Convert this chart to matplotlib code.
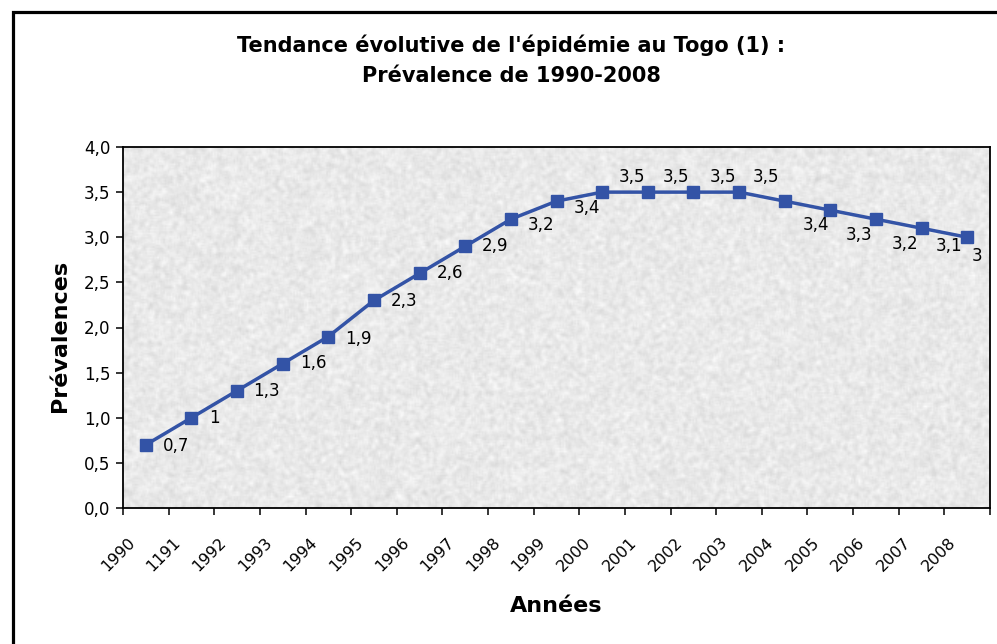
import matplotlib
matplotlib.use("Agg")
import matplotlib.pyplot as plt
import matplotlib.transforms as mtransforms
from matplotlib.patches import Rectangle
import numpy as np

# data
years = ["1990", "1191", "1992", "1993", "1994", "1995", "1996", "1997", "1998",
         "1999", "2000", "2001", "2002", "2003", "2004", "2005", "2006", "2007", "2008"]
prevalence = [0.7, 1.0, 1.3, 1.6, 1.9, 2.3, 2.6, 2.9, 3.2, 3.4,
              3.5, 3.5, 3.5, 3.5, 3.4, 3.3, 3.2, 3.1, 3.0]
value_labels = ["0,7", "1", "1,3", "1,6", "1,9", "2,3", "2,6", "2,9", "3,2", "3,4",
                "3,5", "3,5", "3,5", "3,5", "3,4", "3,3", "3,2", "3,1", "3"]

# label placement (pixels, x right / y down) relative to each marker
label_offsets = [(17, 1), (18, 0), (16, 0), (17, -1), (17, 2), (17, 1), (17, 0),
                 (17, 0), (17, 6), (17, 7), (17, -15), (15, -15), (16, -15),
                 (14, -15), (18, 24), (15, 25), (16, 25), (14, 18), (5, 19)]

plt.rcParams["font.family"] = ["DejaVu Sans"]

W, H = 997, 644
fig = plt.figure(figsize=(W / 100, H / 100), dpi=100)
fig.patch.set_facecolor("white")

# outer chart border (runs off the right and bottom edges)
fig.patches.append(Rectangle((12.5 / W, -0.2), 1.2, 1.2 - 12.5 / H,
                             transform=fig.transFigure, fill=False,
                             edgecolor="black", linewidth=2.3, clip_on=False))

ax = fig.add_axes([123 / W, 1 - 508 / H, (990 - 123) / W, (508 - 147) / H])

# marble-like grey background texture
rs = np.random.RandomState(3)
noise = rs.rand(240, 580)
k = np.ones((3, 3)) / 9.0
sm = noise.copy()
p = np.pad(sm, 1, mode="edge")
sm = sum(p[i:i + sm.shape[0], j:j + sm.shape[1]] * k[i, j]
         for i in range(3) for j in range(3))
sm = (sm - sm.min()) / (sm.max() - sm.min())
tex = 0.83 + 0.16 * sm
ax.imshow(tex, cmap="gray", vmin=0, vmax=1, aspect="auto",
          extent=(-0.5, len(years) - 0.5, 0, 4), zorder=0, interpolation="bilinear")

x = np.arange(len(years))
ax.plot(x, prevalence, color="#3353A6", linewidth=2.5, marker="s",
        markersize=8.6, markerfacecolor="#3353A6", markeredgecolor="#3353A6", zorder=3)

for xi, yi, lab, (dx, dy) in zip(x, prevalence, value_labels, label_offsets):
    ax.annotate(lab, (xi, yi), xytext=(dx, -dy), textcoords="offset pixels",
                ha="left", va="center", fontsize=12, color="black", zorder=4)

ax.set_xlim(-0.5, len(years) - 0.5)
ax.set_ylim(0, 4)
yt = np.arange(0, 4.01, 0.5)
ax.set_yticks(yt)
ax.set_yticklabels([("%.1f" % v).replace(".", ",") for v in yt], fontsize=12)
ax.set_xticks(x)
ax.set_xticklabels(years, fontsize=11.5, rotation=45, ha="right")
ax.set_xticks(np.arange(-0.5, len(years), 1.0), minor=True)
ax.tick_params(axis="x", which="major", length=0, pad=19)
ax.tick_params(axis="x", which="minor", length=5, width=1.1, direction="out")
ax.tick_params(axis="y", length=5, width=1.1, direction="out", pad=4)
shift = mtransforms.ScaledTranslation(-8 / 100, 0, fig.dpi_scale_trans)
for t in ax.get_xticklabels():
    t.set_transform(t.get_transform() + shift)
for s in ax.spines.values():
    s.set_linewidth(1.3)
    s.set_color("black")

ax.set_xlabel("Années", fontsize=16, fontweight="bold")
ax.xaxis.set_label_coords(0.5, (508 - 596) / 361)
ax.set_ylabel("Prévalences", fontsize=16, fontweight="bold")
ax.yaxis.set_label_coords((70 - 123) / 867, (508 - 336) / 361)

fig.text(511 / W, 1 - 45 / H, "Tendance évolutive de l'épidémie au Togo (1) :",
         ha="center", va="center", fontsize=15, fontweight="bold")
fig.text(511 / W, 1 - 76 / H, "Prévalence de 1990-2008",
         ha="center", va="center", fontsize=15, fontweight="bold")

fig.savefig("out.png", dpi=100)
